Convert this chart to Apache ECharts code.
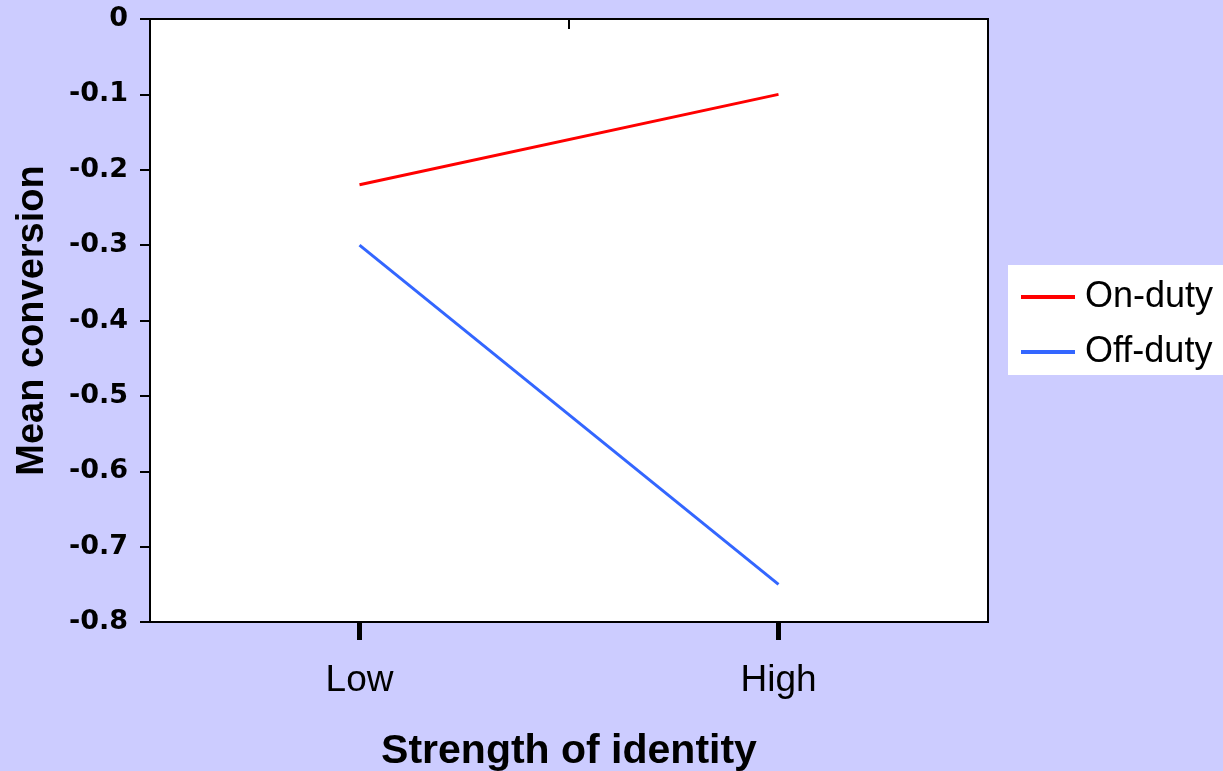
<!DOCTYPE html>
<html>
<head>
<meta charset="utf-8">
<script src="https://cdn.jsdelivr.net/npm/echarts@6/dist/echarts.min.js"></script>
<style>
html,body{margin:0;padding:0;background:#CCCCFF;}
#chart{width:1223px;height:771px;}
</style>
</head>
<body>
<div id="chart"></div>
<script>
const categories = ['Low', 'High'];
const onDuty = [-0.22, -0.10];
const offDuty = [-0.30, -0.75];
const seriesNames = ['On-duty', 'Off-duty'];
const yMin = -0.8, yMax = 0, yStep = 0.1;

const chart = echarts.init(document.getElementById('chart'));
const font = 'Liberation Sans, Arial, sans-serif';
chart.setOption({
  backgroundColor: '#CCCCFF',
  animation: false,
  grid: {
    left: 150, top: 19, width: 838, height: 603,
    containLabel: false, outerBoundsMode: 'none',
    show: true, backgroundColor: '#ffffff', borderColor: '#000', borderWidth: 2
  },
  legend: {
    left: 1008, top: 265,
    orient: 'vertical',
    backgroundColor: '#ffffff',
    padding: [13, 13, 4, 13],
    icon: 'rect',
    itemWidth: 54, itemHeight: 4,
    itemGap: 17,
    textStyle: { fontFamily: font, fontSize: 36, color: '#000', padding: [0, 0, 0, 5], lineHeight: 38 },
    data: seriesNames
  },
  xAxis: [{
    type: 'category',
    data: categories,
    boundaryGap: true,
    position: 'bottom',
    axisLine: { show: true, onZero: false, lineStyle: { color: '#000', width: 2 } },
    axisTick: { show: true, alignWithLabel: true, inside: false, length: 18, lineStyle: { color: '#000', width: 5 } },
    axisLabel: { fontFamily: font, fontSize: 37, color: '#000', margin: 40 },
    splitLine: { show: false },
    name: 'Strength of identity',
    nameLocation: 'middle',
    nameGap: 109,
    nameTextStyle: { fontFamily: font, fontSize: 41, fontWeight: 'bold', color: '#000' }
  }, {
    type: 'value',
    position: 'top',
    min: 0, max: 2, interval: 1,
    axisLine: { show: true, onZero: false, lineStyle: { color: '#000', width: 2 } },
    axisTick: { show: true, inside: true, length: 10, lineStyle: { color: '#000', width: 2 } },
    axisLabel: { show: false },
    splitLine: { show: false }
  }],
  yAxis: {
    type: 'value',
    min: yMin, max: yMax, interval: yStep,
    axisLine: { show: true, lineStyle: { color: '#000', width: 2 } },
    axisTick: { show: true, inside: false, length: 10, lineStyle: { color: '#000', width: 2 } },
    axisLabel: {
      fontFamily: 'DejaVu Sans, sans-serif', fontSize: 27, fontWeight: 'bold', color: '#000', margin: 22,
      formatter: v => (Math.abs(v) < 1e-9 ? '0' : (Math.round(v * 10) / 10).toString())
    },
    splitLine: { show: false },
    name: 'Mean conversion',
    nameLocation: 'middle',
    nameGap: 98,
    nameTextStyle: { fontFamily: font, fontSize: 38, fontWeight: 'bold', color: '#000' }
  },
  series: [{
    name: seriesNames[0], type: 'line', data: onDuty, xAxisIndex: 0,
    symbol: 'none', lineStyle: { color: '#FF0000', width: 3 }, itemStyle: { color: '#FF0000' }
  }, {
    name: seriesNames[1], type: 'line', data: offDuty, xAxisIndex: 0,
    symbol: 'none', lineStyle: { color: '#3366FF', width: 3 }, itemStyle: { color: '#3366FF' }
  }]
});
</script>
</body>
</html>
